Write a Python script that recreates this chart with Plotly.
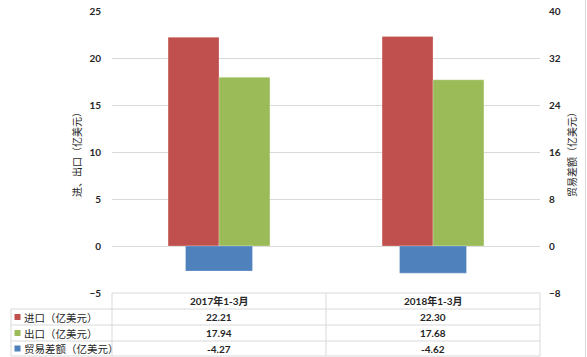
import plotly.graph_objects as go

categories = ["2017年1-3月", "2018年1-3月"]
series_names = ["进口（亿美元）", "出口（亿美元）", "贸易差额（亿美元）"]
imports = [22.21, 22.30]
exports = [17.94, 17.68]
balance = [-4.27, -4.62]
left_ticks = [-5, 0, 5, 10, 15, 20, 25]
right_ticks = [-8, 0, 8, 16, 24, 32, 40]

colors = ["#C0504D", "#9BBB59", "#4F81BD"]

W, H = 587, 357
PL, PR, PT, PB = 112, 540, 11, 293

def xp(px):
    return (px - PL) / (PR - PL)

def yp(py):
    return (PB - py) / (PB - PT)

xs = list(range(len(categories)))
fig = go.Figure()
fig.add_trace(go.Bar(x=xs, y=imports, name=series_names[0], marker_color=colors[0],
                     marker_line=dict(color="rgba(255,255,255,0.25)", width=1),
                     width=0.238, offset=-0.238, yaxis="y"))
fig.add_trace(go.Bar(x=xs, y=exports, name=series_names[1], marker_color=colors[1],
                     marker_line=dict(color="rgba(255,255,255,0.25)", width=1),
                     width=0.238, offset=0.0, yaxis="y"))
fig.add_trace(go.Bar(x=xs, y=balance, name=series_names[2], marker_color=colors[2],
                     marker_line=dict(color="rgba(255,255,255,0.25)", width=1),
                     width=0.313, offset=-0.1565, yaxis="y2"))

tickfont = dict(family="Lato, Noto Sans CJK SC", size=10, color="#262626", weight="bold")
fig.update_layout(
    width=W, height=H,
    margin=dict(l=PL, r=W - PR, t=PT, b=H - PB, pad=0, autoexpand=False),
    paper_bgcolor="white", plot_bgcolor="white",
    barmode="overlay", showlegend=False,
    xaxis=dict(range=[-0.5, 1.5], showticklabels=False, showgrid=False,
               zeroline=False, showline=False, ticks="", automargin=False),
    yaxis=dict(range=[left_ticks[0], left_ticks[-1]], tickvals=left_ticks,
               showgrid=True, gridcolor="#D9D9D9", gridwidth=1,
               zeroline=False, showline=False, ticks="", automargin=False,
               ticklabelstandoff=10, tickfont=tickfont),
    yaxis2=dict(range=[right_ticks[0], right_ticks[-1]], tickvals=right_ticks,
                overlaying="y", side="right", showgrid=False, zeroline=False,
                showline=False, ticks="", ticklabelstandoff=8, automargin=False,
                tickfont=tickfont),
)

line_col = "#D9D9D9"
shapes = []
def hline(x0, x1, y):
    shapes.append(dict(type="line", xref="paper", yref="paper",
                       x0=xp(x0), x1=xp(x1), y0=yp(y), y1=yp(y),
                       line=dict(color=line_col, width=1)))
def vline(x, y0, y1):
    shapes.append(dict(type="line", xref="paper", yref="paper",
                       x0=xp(x), x1=xp(x), y0=yp(y0), y1=yp(y1),
                       line=dict(color=line_col, width=1)))

row_tops = [293, 309, 325, 341, 356]
hline(PL, PR, row_tops[0])
for y in row_tops[1:]:
    hline(11, PR, y)
vline(11, 309, 356)
col_x = [PL, (PL + PR) / 2, PR]
for x in col_x:
    vline(x, 293, 356)
# outer border on the right
vline(585.5, 0, 357)

annotations = []
def ann(text, x, y, font, xanchor="center", angle=0):
    annotations.append(dict(text=text, xref="paper", yref="paper",
                            x=xp(x), y=yp(y), xanchor=xanchor, yanchor="middle",
                            showarrow=False, textangle=angle, font=font))

title_font = dict(family="Noto Sans CJK SC", size=10, color="#262626")
ann("进、出口（亿美元）", 76, 152, title_font, angle=-90)
ann("贸易差额（亿美元）", 571, 152, title_font, angle=-90)

cell_font = dict(family="Lato, Noto Sans CJK SC", size=10, color="#262626")
label_font = dict(family="Noto Sans CJK SC", size=10.5, color="#262626")
for i, c in enumerate(categories):
    cx = (col_x[i] + col_x[i + 1]) / 2
    ann("<b>%s</b>" % c, cx, (row_tops[0] + row_tops[1]) / 2, cell_font)
rows = [imports, exports, balance]
for r, vals in enumerate(rows):
    ymid = (row_tops[r + 1] + row_tops[r + 2]) / 2
    shapes.append(dict(type="rect", xref="paper", yref="paper",
                       x0=xp(14.5), x1=xp(20.5), y0=yp(ymid + 3), y1=yp(ymid - 3),
                       fillcolor=colors[r], line=dict(width=0)))
    ann(series_names[r], 22, ymid, label_font, xanchor="left")
    for i, v in enumerate(vals):
        cx = (col_x[i] + col_x[i + 1]) / 2
        ann("<b>%.2f</b>" % v, cx, ymid, cell_font)

fig.update_layout(shapes=shapes, annotations=annotations)
fig.write_html("out.html", config={"displayModeBar": False},
               post_script="document.body.style.margin='0';")
